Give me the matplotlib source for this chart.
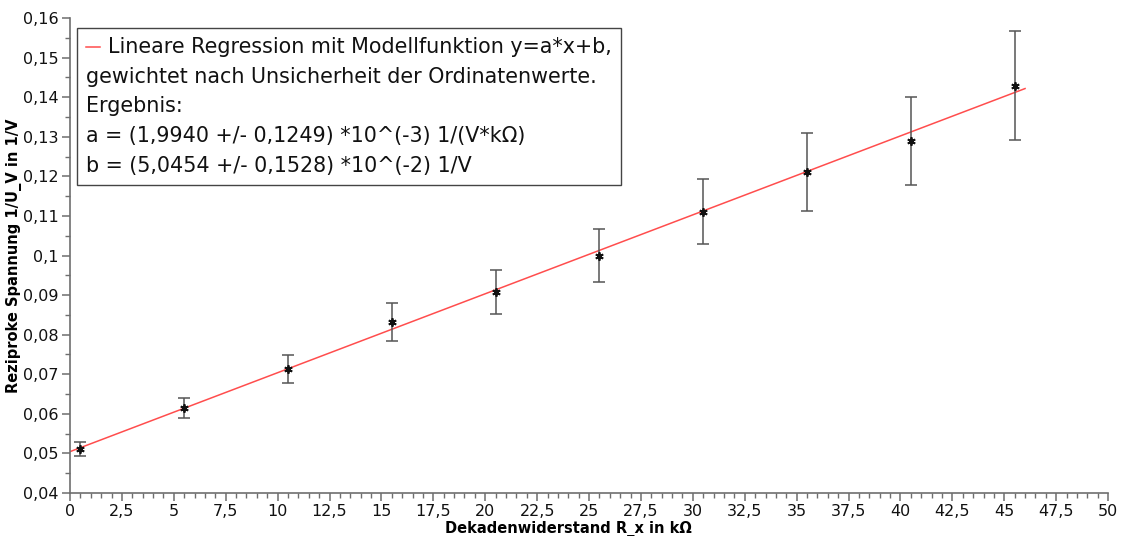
import matplotlib
matplotlib.use('Agg')
import matplotlib.pyplot as plt
import matplotlib.ticker as ticker
from matplotlib.offsetbox import AnchoredOffsetbox, VPacker, HPacker, TextArea, DrawingArea
from matplotlib.lines import Line2D
import numpy as np

# measured data
r_x = [0.5, 5.5, 10.5, 15.5, 20.5, 25.5, 30.5, 35.5, 40.5, 45.5]
inv_u = [0.0511, 0.0615, 0.0713, 0.0832, 0.0908, 0.0999, 0.1111, 0.1211, 0.1289, 0.1429]
inv_u_err = [0.0018, 0.0025, 0.0035, 0.0048, 0.0056, 0.0067, 0.0083, 0.0098, 0.0111, 0.0138]

# fit result
a_fit = 1.9940e-3
b_fit = 5.0454e-2
fit_x = [0.0, 46.0]

legend_lines = [
    'Lineare Regression mit Modellfunktion y=a*x+b,',
    'gewichtet nach Unsicherheit der Ordinatenwerte.',
    'Ergebnis:',
    'a = (1,9940 +/- 0,1249) *10^(-3) 1/(V*k\u03a9)',
    'b = (5,0454 +/- 0,1528) *10^(-2) 1/V',
]

FIT_COLOR = '#ff4d4d'
AX_COLOR = '#6e6e6e'

fig = plt.figure(figsize=(11.22, 5.36), dpi=100)
ax = fig.add_axes([0.0624, 0.0802, 0.9252, 0.8862])

fx = np.array(fit_x)
ax.plot(fx, a_fit * fx + b_fit, color=FIT_COLOR, lw=1.1, zorder=2)
ax.errorbar(r_x, inv_u, yerr=inv_u_err, fmt='none', ecolor='#555555',
            elinewidth=1.1, capsize=4, capthick=1.1, zorder=3)
ax.plot(r_x, inv_u, ls='none', marker=(6, 2, 0), ms=6, mew=1.3,
        color='#111111', zorder=4)

ax.set_xlim(0, 50)
ax.set_ylim(0.04, 0.16)
ax.xaxis.set_major_locator(ticker.MultipleLocator(2.5))
ax.xaxis.set_minor_locator(ticker.MultipleLocator(0.5))
ax.yaxis.set_major_locator(ticker.MultipleLocator(0.01))
ax.yaxis.set_minor_locator(ticker.MultipleLocator(0.005))


def comma_fmt(v, pos):
    return ('%g' % round(v, 4)).replace('.', ',')


ax.xaxis.set_major_formatter(ticker.FuncFormatter(comma_fmt))
ax.yaxis.set_major_formatter(ticker.FuncFormatter(comma_fmt))

for s in ['top', 'right']:
    ax.spines[s].set_visible(False)
for s in ['left', 'bottom']:
    ax.spines[s].set_color(AX_COLOR)
    ax.spines[s].set_linewidth(1.2)
ax.tick_params(which='major', length=6, width=1.1, color=AX_COLOR,
               labelsize=11.5, labelcolor='#111111', pad=2)
ax.tick_params(which='minor', length=3.5, width=1.0, color=AX_COLOR)

ax.set_xlabel('Dekadenwiderstand R_x in k\u03a9', fontsize=10.5, fontweight='bold')
ax.set_ylabel('Reziproke Spannung 1/U_V in 1/V', fontsize=10.5, fontweight='bold')
ax.xaxis.set_label_coords(0.48, -0.058)
ax.yaxis.set_label_coords(-0.046, 0.5)

# legend box: red handle inline with first line of multi-line text
fs = 14.9
tprops = dict(fontsize=fs, color='#111111')
da = DrawingArea(10, 10, 0, 0)
da.add_artist(Line2D([0, 10], [5, 5], color=FIT_COLOR, lw=1.1))
first = HPacker(children=[da, TextArea(legend_lines[0], textprops=tprops)],
                align='center', pad=0, sep=6)
rest = [TextArea(t, textprops=tprops) for t in legend_lines[1:]]
box = VPacker(children=[first] + rest, align='left', pad=0, sep=7)
anch = AnchoredOffsetbox(loc='upper left', child=box, pad=0.65, borderpad=0,
                         bbox_to_anchor=(0.0067, 0.979),
                         bbox_transform=ax.transAxes, frameon=True)
anch.patch.set_edgecolor('#444444')
anch.patch.set_linewidth(1.0)
anch.patch.set_boxstyle('square', pad=0)
ax.add_artist(anch)

fig.savefig('out.png', dpi=100)
